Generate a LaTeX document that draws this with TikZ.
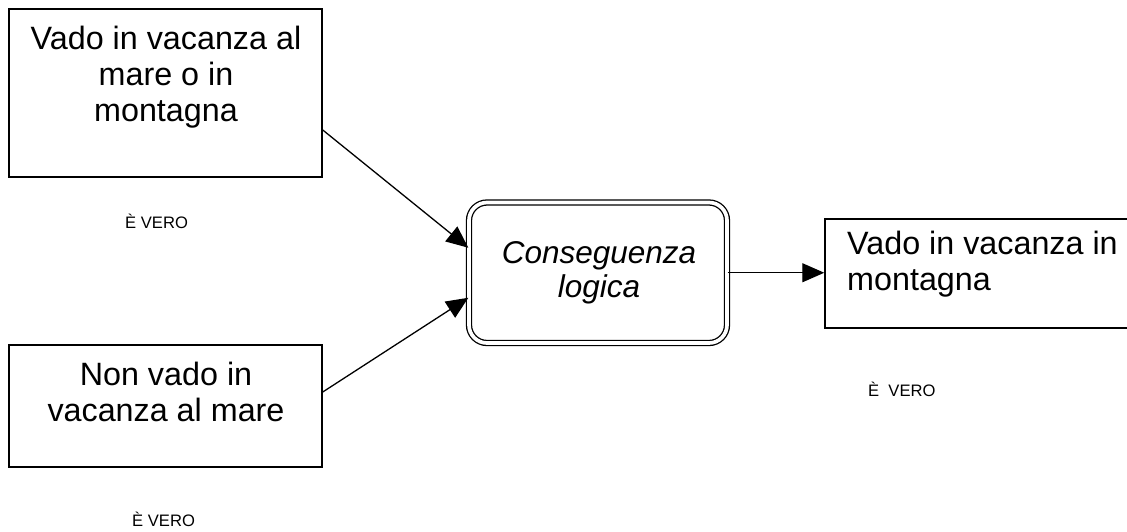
\documentclass[tikz,border=0pt]{standalone}
\usepackage{fontspec}
\setmainfont{Liberation Sans}
\usetikzlibrary{arrows.meta}

\tikzset{
  box/.style={draw=black, line width=1.5pt, rectangle, inner sep=0pt},
  roundbox/.style={draw=black, line width=1.3pt, double=white, double distance=3.7pt,
                   rectangle, rounded corners=18pt, inner sep=0pt},
  boxtext/.style={inner sep=0pt, align=center, font=\fontsize{32.3}{36}\selectfont},
  note/.style={inner sep=0pt, font=\fontsize{16.6}{19}\selectfont},
  link/.style={line width=1.3pt, -{Triangle[length=22pt, width=19pt]}}
}

\begin{document}
\begin{tikzpicture}[x=1pt, y=-1pt]
  \useasboundingbox (0,0) rectangle (1127,532);
  \clip (0,0) rectangle (1127,532);

  % premises, inference and conclusion frames
  \node[box, minimum width=313pt, minimum height=168pt] (p1) at (165.5,93) {};
  \node[box, minimum width=313pt, minimum height=122pt] (p2) at (165.5,406) {};
  \node[roundbox, minimum width=258pt, minimum height=140.5pt] (inf) at (598,272.75) {};
  \node[box, minimum width=315pt, minimum height=109pt] (concl) at (982.5,273.5) {};

  % texts inside the frames (anchored on the baseline of their last line)
  \node[boxtext, anchor=base] (t1) at (166,122) {Vado in vacanza al\\mare o in\\montagna};
  \node[boxtext, anchor=base] (t2) at (166,421) {Non vado in\\vacanza al mare};
  \node[boxtext, anchor=base, font=\fontsize{31.5}{34}\selectfont\itshape] (t3) at (599,297) {Conseguenza\\logica};
  \node[boxtext, anchor=base west, align=left] (t4) at (847,290) {Vado in vacanza in\\montagna};

  % truth labels
  \node[note, anchor=base west] (v1) at (125,228) {È VERO};
  \node[note, anchor=base west] (v2) at (868,396) {È\ \ VERO};
  \node[note, anchor=base west] (v3) at (132,526) {È VERO};

  % connectors
  \draw[link] ([yshift=-37pt]p1.east) -- ([yshift=25pt]inf.west);
  \draw[link] ([yshift=14pt]p2.east) -- ([yshift=-25pt]inf.west);
  \draw[link] (inf.east) -- (inf.east -| concl.west);
\end{tikzpicture}
\end{document}
